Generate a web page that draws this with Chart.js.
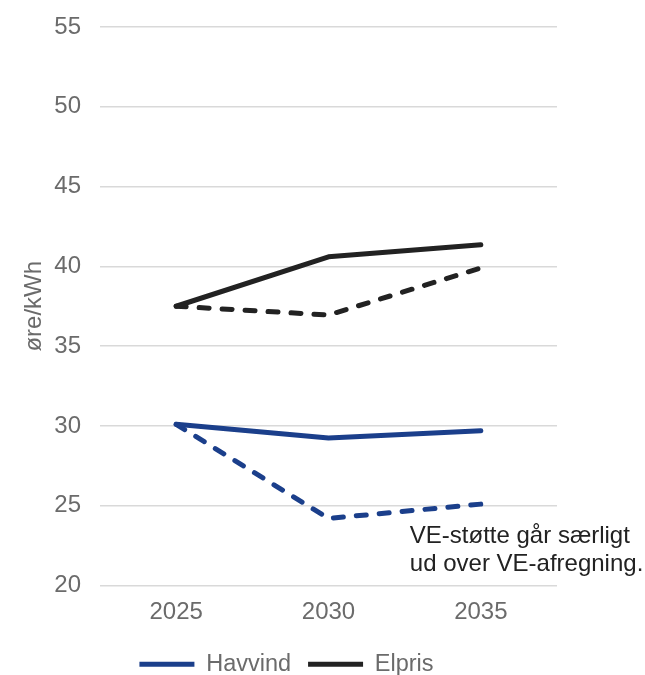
<!DOCTYPE html>
<html>
<head>
<meta charset="utf-8">
<script src="https://cdn.jsdelivr.net/npm/chart.js@4/dist/chart.umd.min.js"></script>
<style>
  html, body { margin: 0; padding: 0; background: #fff; }
  #wrap { width: 645px; height: 675px; position: relative; }
</style>
</head>
<body>
<div id="wrap"><canvas id="c"></canvas></div>
<script>
// ---- data ----
const categories = ['2025', '2030', '2035'];
const havvind = [30.1, 29.25, 29.7];
const elpris = [37.5, 40.6, 41.35];
const havvindVE = [30.1, 24.2, 25.1];
const elprisVE = [37.5, 36.95, 39.9];
const seriesNames = ['Havvind', 'Elpris', 'Havvind (VE-støtte)', 'Elpris (VE-støtte)'];
const yMin = 20, yMax = 55, yStep = 5;
const axisTitle = 'øre/kWh';
const noteLines = ['VE-støtte går særligt', 'ud over VE-afregning.'];

// ---- styles ----
const FONT = "'Liberation Sans', Arial, sans-serif";
const BLUE = '#1b3f8b';
const BLACK = '#222222';
const GREY = '#6b6b6b';

const notePlugin = {
  id: 'note',
  afterDraw(chart) {
    const ctx = chart.ctx;
    const xs = chart.scales.x, ys = chart.scales.y;
    const x = xs.getPixelForValue(2) - 71;
    const y = ys.getPixelForValue(23.1);
    ctx.save();
    ctx.font = '24px ' + FONT;
    ctx.fillStyle = BLACK;
    ctx.textAlign = 'left';
    ctx.textBaseline = 'middle';
    noteLines.forEach((t, i) => ctx.fillText(t, x, y + i * 28));
    ctx.restore();
  }
};

const legendShift = {
  id: 'legendShift',
  afterLayout(chart) {
    const l = chart.legend;
    if (!l) return;
    l.left += 8; l.right += 8;
    l.top += 11; l.bottom += 11;
  }
};

function ds(label, data, color, dashed) {
  return {
    label, data,
    borderColor: color,
    backgroundColor: color,
    borderWidth: 5,
    borderDash: dashed ? [10, 13] : [],
    borderCapStyle: 'round',
    borderJoinStyle: 'round',
    pointRadius: 0,
    pointHoverRadius: 0,
    pointStyle: 'line',
    tension: 0,
    fill: false
  };
}

new Chart(document.getElementById('c'), {
  type: 'line',
  data: {
    labels: categories,
    datasets: [
      ds(seriesNames[0], havvind, BLUE, false),
      ds(seriesNames[1], elpris, BLACK, false),
      ds(seriesNames[2], havvindVE, BLUE, true),
      ds(seriesNames[3], elprisVE, BLACK, true)
    ]
  },
  options: {
    responsive: true,
    maintainAspectRatio: false,
    animation: false,
    layout: { padding: { top: 27, right: 88, bottom: 0, left: 0 } },
    plugins: {
      tooltip: { enabled: false },
      legend: {
        position: 'bottom',
        labels: {
          usePointStyle: true,
          pointStyleWidth: 55,
          padding: 17,
          color: GREY,
          font: { family: FONT, size: 23.5 },
          filter: (item) => item.datasetIndex < 2
        }
      }
    },
    scales: {
      x: {
        offset: true,
        grid: { display: false, drawTicks: false },
        border: { display: false },
        ticks: { color: GREY, font: { family: FONT, size: 24 }, padding: 12.5, maxRotation: 0 },
        afterFit(s) { s.height = 39; }
      },
      y: {
        min: yMin, max: yMax,
        grid: { color: '#d9d9d9', lineWidth: 1.5, drawTicks: true, tickLength: 19, tickColor: 'rgba(0,0,0,0)' },
        border: { display: false },
        ticks: { stepSize: yStep, color: GREY, font: { family: FONT, size: 24 }, padding: 0 },
        title: { display: true, text: axisTitle, color: GREY, font: { family: FONT, size: 24 }, padding: { top: 20, bottom: 0 } },
        afterFit(s) { s.width = 100; }
      }
    }
  },
  plugins: [notePlugin, legendShift]
});
</script>
</body>
</html>
